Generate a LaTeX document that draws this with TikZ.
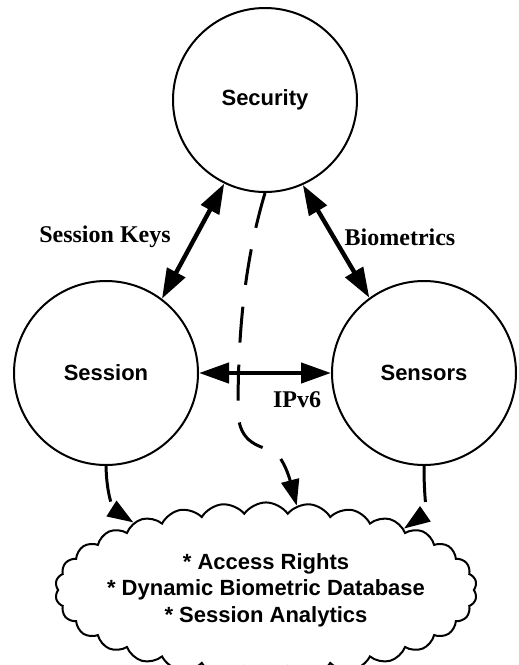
\documentclass[tikz,border=0pt]{standalone}
\usepackage{fontspec}
\setmainfont{Liberation Serif}
\setsansfont{Liberation Sans}
\usetikzlibrary{shapes.symbols,arrows.meta}

\tikzset{
  stage/.style={draw, circle, line width=1pt, minimum size=92pt, inner sep=0pt,
    font=\sffamily\bfseries\fontsize{11}{13}\selectfont},
  lbl/.style={font=\bfseries\fontsize{12}{14}\selectfont, inner sep=0pt},
  dbl/.style={line width=2.2pt,
    {Triangle[length=15pt,width=10pt]}-{Triangle[length=15pt,width=10pt]}},
  flow/.style={line width=1.5pt, dash pattern=on 18pt off 11pt,
    -{Triangle[length=13pt,width=9pt]}}
}

\begin{document}
\begin{tikzpicture}[x=0.5pt,y=-0.5pt]
		\useasboundingbox (0,0) rectangle (519,665);
		% circles
		\node[stage] (sec) at (265,100) {Security};
		\node[stage] (ses) at (106,373) {Session};
		\node[stage] (sen) at (424,373) {Sensors};
		% data store
		\node[draw, cloud, cloud puffs=30, cloud puff arc=110, aspect=2.71,
		line width=1pt,
		inner sep=-6pt, align=center,
		font=\sffamily\bfseries\fontsize{11}{13.3}\selectfont] (store) at (266,590)
		{* Access Rights\\* Dynamic Biometric Database\\* Session Analytics};

		% links between circles
		\draw[dbl] (sec.244) -- (ses.53);
		\draw[dbl] (sec.294) -- (sen.126);
		\draw[dbl] (ses.east) -- (sen.west);
		\node[lbl] (keys) at (105,237) {Session Keys};
		\node[lbl] (bio) at (400,237) {Biometrics};
		\node[lbl] (ipv6) at (297,400) {IPv6};

		% flows into the store
		\draw[flow] (sec.south) .. controls (245,260) and (238,330) .. (238,410)
		.. controls (238,445) and (262,446) .. (274,452)
		.. controls (284,458) and (290,480) .. (store.70);
		\draw[flow] (ses.south) .. controls (107,505) and (117,512) .. (store.153);
		\draw[flow] (sen.south) .. controls (424,505) and (428,512) .. (store.24);
\end{tikzpicture}
\end{document}
